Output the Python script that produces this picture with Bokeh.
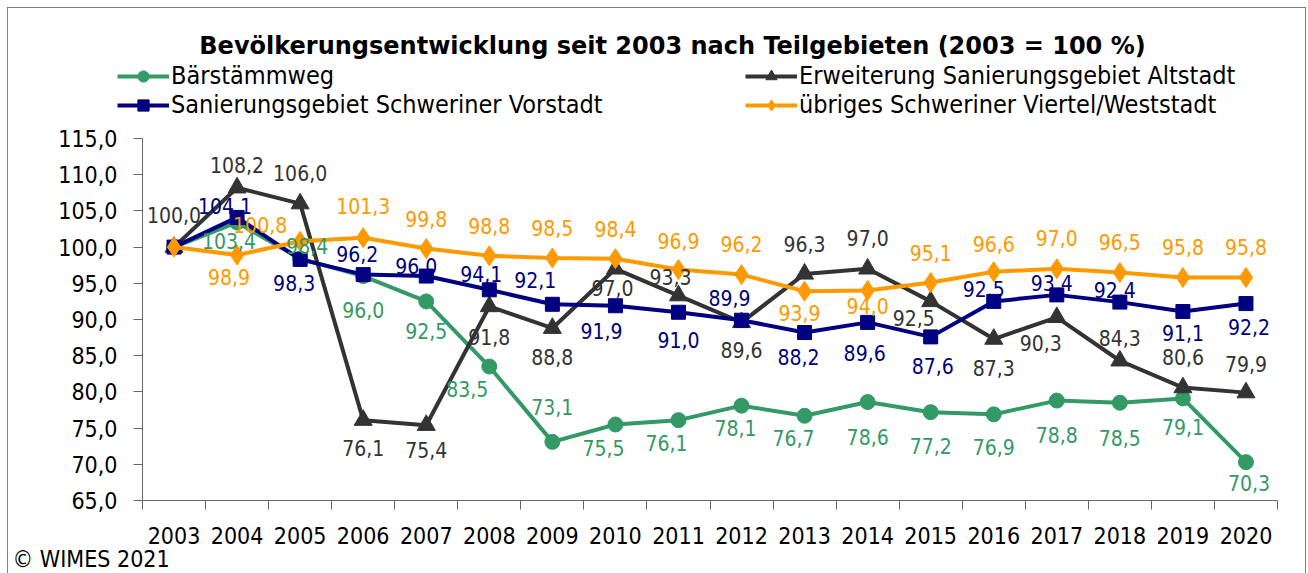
from bokeh.plotting import figure
from bokeh.layouts import column
from bokeh.models import (ColumnDataSource, Range1d, FixedTicker, Legend, LegendItem, Title, Label)
from bokeh.core.properties import value
from bokeh.embed import file_html
from bokeh.resources import INLINE

# ---------------- data ----------------
years = list(range(2003, 2021))
baerstaemmweg = [100.0, 103.4, 98.4, 96.0, 92.5, 83.5, 73.1, 75.5, 76.1, 78.1, 76.7, 78.6, 77.2, 76.9, 78.8, 78.5, 79.1, 70.3]
altstadt = [100.0, 108.2, 106.0, 76.1, 75.4, 91.8, 88.8, 97.0, 93.3, 89.6, 96.3, 97.0, 92.5, 87.3, 90.3, 84.3, 80.6, 79.9]
vorstadt = [100.0, 104.1, 98.3, 96.2, 96.0, 94.1, 92.1, 91.9, 91.0, 89.9, 88.2, 89.6, 87.6, 92.5, 93.4, 92.4, 91.1, 92.2]
weststadt = [100.0, 98.9, 100.8, 101.3, 99.8, 98.8, 98.5, 98.4, 96.9, 96.2, 93.9, 94.0, 95.1, 96.6, 97.0, 96.5, 95.8, 95.8]
y_ticks = [65, 70, 75, 80, 85, 90, 95, 100, 105, 110, 115]
names = ["Bärstämmweg", "Erweiterung Sanierungsgebiet Altstadt",
         "Sanierungsgebiet Schweriner Vorstadt", "übriges Schweriner Viertel/Weststadt"]
title_text = "Bevölkerungsentwicklung seit 2003 nach Teilgebieten (2003 = 100 %)"
footer_text = "© WIMES 2021"

# label placement (pixel offsets, dy positive = downwards); None = no label
lab_baer = [None, (-8, 19), (7, -13), (0, 34), (0, 30), (-22, 22), (0, -35), (-12, 24), (-12, 23),
            (-6, 22), (-11, 22), (0, 35), (0, 34), (0, 33), (0, 34), (0, 35), (0, 29), (3, 21)]
lab_alt = [(0, -32), (0, -23), (0, -31), (0, 28), (0, 25), (0, 31), (0, 29), (-3, 19), (-8, -19),
           (0, 28), (0, -30), (0, -31), (-17, 17), (0, 29), (-16, 26), (0, -23), (0, -31), (0, -29)]
lab_vor = [None, (-12, -11), (-6, 24), (-6, -21), (-10, -10), (-8, -16), (-17, -24), (-14, 25), (0, 28),
           (-12, -22), (-6, 24), (-3, 31), (2, 29), (-10, -12), (-5, -12), (-5, -12), (0, 21), (3, 23)]
lab_west = [None, (-8, 22), (-40, -16), (0, -32), (0, -30), (0, -30), (0, -30), (0, -30), (0, -29),
            (0, -31), (-5, 22), (0, 15), (0, -30), (0, -28), (0, -31), (0, -30), (0, -31), (0, -31)]

FONT = "DejaVu Sans Condensed"
W = 1297
HEAD_H = 118
MAIN_H = 447
FRAME_LEFT = 134

series = [
    (baerstaemmweg, "#339966", "circle", 15, lab_baer),
    (altstadt, "#333333", "triangle", 18, lab_alt),
    (vorstadt, "#000080", "square", 14, lab_vor),
    (weststadt, "#FF9900", "diamond", 20, lab_west),
]

# ---------------- header (title + legend) ----------------
head = figure(width=W, height=HEAD_H, output_backend="svg", toolbar_location=None, title=None,
              x_range=Range1d(0, 1), y_range=Range1d(0, 1), x_axis_type=None, y_axis_type=None,
              min_border_left=0, min_border_right=0, min_border_top=0, min_border_bottom=0,
              background_fill_color="white", border_fill_color="white")
head.outline_line_color = None
head.xgrid.visible = False
head.ygrid.visible = False
try:
    head.frame_align = False
    head_left = 0
except Exception:
    head_left = FRAME_LEFT

# ---------------- main chart ----------------
p = figure(width=W, height=MAIN_H, output_backend="svg", toolbar_location=None, title=None,
           x_range=Range1d(2002.5, 2020.5), y_range=Range1d(65, 115),
           min_border_left=FRAME_LEFT, min_border_right=28, min_border_top=12, min_border_bottom=73,
           background_fill_color="white", border_fill_color="white")
p.outline_line_color = None
p.xgrid.visible = False
p.ygrid.visible = False

xa = p.xaxis[0]
xa.ticker = FixedTicker(ticks=years, minor_ticks=[y - 0.5 for y in years] + [years[-1] + 0.5])
xa.major_label_overrides = {y: str(y) for y in years}
xa.major_tick_line_color = None
xa.major_tick_out = 9
xa.major_tick_in = 0
xa.minor_tick_out = 9
xa.minor_tick_in = 0
xa.minor_tick_line_color = "#666666"
xa.axis_line_color = "#666666"
xa.major_label_standoff = 17
xa.major_label_text_font = FONT
xa.major_label_text_font_size = "23px"
xa.major_label_text_color = "black"

ya = p.yaxis[0]
ya.ticker = FixedTicker(ticks=y_ticks, minor_ticks=[])
ya.major_label_overrides = {t: f"{t:.1f}".replace(".", ",") for t in y_ticks}
ya.major_tick_out = 9
ya.major_tick_in = 0
ya.major_tick_line_color = "#666666"
ya.axis_line_color = "#666666"
ya.major_label_standoff = 16
ya.major_label_text_font = FONT
ya.major_label_text_font_size = "23px"
ya.major_label_text_color = "black"

items = []
label_sources = []
for (vals, col, mk, sz, labs), name in zip(series, names):
    src = ColumnDataSource(dict(x=years, y=vals))
    p.line("x", "y", source=src, line_color=col, line_width=4)
    p.scatter("x", "y", source=src, marker=mk, size=sz, fill_color=col, line_color=col)
    # same series in the header figure (outside its visible range) to feed the legend
    hl = head.line("x", "y", source=src, line_color=col, line_width=4)
    hs = head.scatter("x", "y", source=src, marker=mk, size=sz, fill_color=col, line_color=col)
    items.append(LegendItem(label=name, renderers=[hl, hs]))
    xs, ys, ts, dxs, dys = [], [], [], [], []
    for yr, v, lab in zip(years, vals, labs):
        if lab is None:
            continue
        xs.append(yr); ys.append(v)
        ts.append(f"{v:.1f}".replace(".", ","))
        dxs.append(lab[0]); dys.append(lab[1])
    label_sources.append((ColumnDataSource(dict(x=xs, y=ys, t=ts, dx=dxs, dy=dys)), col))

for lsrc, col in label_sources:
    p.text("x", "y", text="t", x_offset="dx", y_offset="dy", source=lsrc,
           text_align="center", text_baseline="middle", text_color=col,
           text_font=value(FONT), text_font_size="21px")

legend = Legend(items=items, location=(109 - head_left, HEAD_H - 111), orientation="horizontal", ncols=2,
                glyph_width=52, glyph_height=28, label_height=28, label_width=574,
                label_standoff=2, spacing=0, padding=0, margin=0,
                border_line_color=None, background_fill_alpha=0,
                label_text_font=FONT, label_text_font_size="25px", label_text_color="black")
head.add_layout(legend, "center")

head.add_layout(Label(x=664 - head_left, y=HEAD_H - 37, x_units="screen", y_units="screen", text=title_text,
                      text_align="center", text_baseline="middle", text_font="DejaVu Sans",
                      text_font_style="bold", text_font_size="24px", text_color="black"))

p.add_layout(Title(text=footer_text, align="left", offset=-130, standoff=-6, text_font=FONT,
                   text_font_style="normal", text_font_size="23px", text_color="black"), "below")

layout = column(head, p, spacing=0,
                styles={"margin-left": "7px", "margin-top": "7px",
                        "border-left": "1px solid #808080", "border-top": "1px solid #808080",
                        "border-right": "1px solid #808080"})

open("out.html", "w").write(file_html(layout, INLINE))
